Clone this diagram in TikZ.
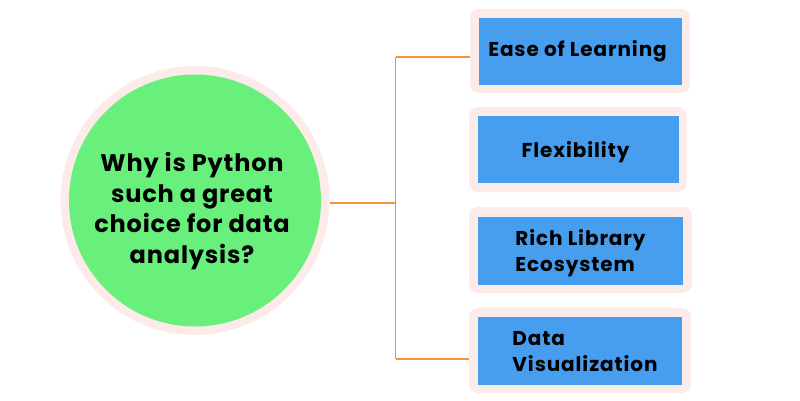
\documentclass[tikz,border=0pt]{standalone}
\usepackage{fontspec}
\setmainfont{Poppins}
\newfontfamily\qfont{Poppins}[LetterSpace=3.5]
\newfontfamily\bfont{Poppins}[LetterSpace=4.5]
\definecolor{ringpink}{HTML}{FDEBE9}
\definecolor{qgreen}{HTML}{69EF7B}
\definecolor{boxblue}{HTML}{479DEE}
\definecolor{linkorange}{HTML}{F0933B}
\newcommand{\lowertext}[1]{\raisebox{-2.5pt}[\height][\depth]{#1}}
\begin{document}
\begin{tikzpicture}[x=1pt,y=-1pt,
  outerbox/.style={draw=none, fill=ringpink, rounded corners=9pt, inner sep=0pt},
  innerbox/.style={draw=none, fill=boxblue, inner sep=0pt, font=\bfont\fontsize{20}{26}\selectfont\bfseries, text=black},
  link/.style={draw=linkorange, line width=1.6pt},
  thinlink/.style={draw=linkorange, line width=1.1pt}]
\useasboundingbox (0,0) rectangle (800,400);
% central question
\node[circle, fill=ringpink, minimum size=269pt, inner sep=0pt] (ring) at (195,200.5) {};
\node[circle, fill=qgreen, minimum size=252pt, inner sep=0pt] (q) at (195,200.5) {};
\node[align=center, font=\qfont\fontsize{24}{30.5}\selectfont\bfseries, inner sep=0pt] (qt) at (192,211) {Why is Python\\such a great\\choice for data\\analysis?};
% boxes
\node[outerbox, minimum width=220pt, minimum height=84pt] (o1) at (580,51) {};
\node[innerbox, minimum width=203pt, minimum height=67pt] (b1) at (580.5,51.5) {\hspace*{-6pt}Ease of Learning};
\node[outerbox, minimum width=218pt, minimum height=85pt] (o2) at (578,149.5) {};
\node[innerbox, minimum width=201pt, minimum height=67pt] (b2) at (578.5,149.5) {\lowertext{\hspace*{-6pt}Flexibility}};
\node[outerbox, minimum width=223pt, minimum height=86pt] (o3) at (580.5,250) {};
\node[innerbox, minimum width=205pt, minimum height=68pt] (b3) at (580.5,251) {\lowertext{\begin{tabular}{@{}l@{}}Rich Library\\Ecosystem\end{tabular}}};
\node[outerbox, minimum width=222pt, minimum height=85pt] (o4) at (580,350.5) {};
\node[innerbox, minimum width=204pt, minimum height=68pt] (b4) at (580,351) {\lowertext{\hspace*{10pt}\begin{tabular}{@{}l@{}}Data\\Visualization\end{tabular}}};
% connectors
\coordinate (j) at (395.5,203);
\coordinate (jt) at (395.5,57);
\coordinate (jb) at (395.5,359);
\draw[link] (ring.east |- j) -- (j);
\draw[link] (jt) -- (jb);
\draw[thinlink] (jt) -- (o1.west |- jt);
\draw[thinlink] (jb) -- (o4.west |- jb);
\end{tikzpicture}
\end{document}
